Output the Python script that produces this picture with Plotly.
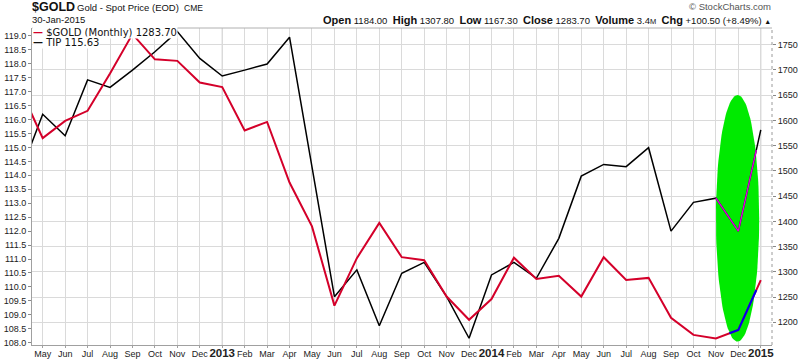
import numpy as np
import plotly.graph_objects as go

# Monthly categories (first one, Apr 2012, lies just left of the visible range)
months = ["Apr", "May", "Jun", "Jul", "Aug", "Sep", "Oct", "Nov", "Dec", "2013",
          "Feb", "Mar", "Apr", "May", "Jun", "Jul", "Aug", "Sep", "Oct", "Nov", "Dec", "2014",
          "Feb", "Mar", "Apr", "May", "Jun", "Jul", "Aug", "Sep", "Oct", "Nov", "Dec", "2015"]

gold = [1662, 1565, 1599, 1619, 1693, 1771, 1721, 1718, 1675, 1666,
        1580, 1597, 1477, 1390, 1233, 1327, 1397, 1329, 1323, 1251, 1205, 1246,
        1328, 1286, 1292, 1251, 1329, 1284, 1288, 1209, 1175, 1168, 1185, 1283.7]

tip = [114.07, 116.19, 115.42, 117.42, 117.15, 117.77, 118.43, 119.15, 118.19, 117.56,
       117.77, 117.99, 118.95, 114.33, 109.65, 110.61, 108.61, 110.49, 110.88, 109.65, 108.16, 110.43,
       110.88, 110.31, 111.74, 113.97, 114.39, 114.31, 114.99, 112.0, 113.03, 113.18, 112.0, 115.63]

idx = np.arange(len(months)) - 1  # 0 = May 2012

years = {"2013", "2014", "2015"}
ticktext = [f"<b><span style='font-size:11.5px'>{m}</span></b>" if m in years else m for m in months]

RED = "#d4002a"
FONT = "Liberation Sans, Arial, sans-serif"
GRID = "#dadada"


def segment(xs, ys, a, b):
    pts = [a] + [k for k in xs if a < k < b] + [b]
    return pts, np.interp(pts, xs, ys)


fig = go.Figure()

# hand-drawn green highlight ellipse (annotation, first trace of the lower subplot)
ecx, ecy, erx, ery = 30.965, 112.46, 0.965, 4.42
t = np.linspace(0, 2 * np.pi, 121)
fig.add_trace(go.Scatter(x=ecx + erx * np.cos(t), y=ecy + ery * np.sin(t), yaxis="y",
                         mode="lines", fill="toself", fillcolor="#00ea00",
                         line=dict(width=0, color="#00ea00"), hoverinfo="skip", showlegend=False))

fig.add_trace(go.Scatter(x=idx, y=tip, yaxis="y", mode="lines",
                         line=dict(color="#000000", width=1.5), name="TIP"))
mx, my = segment(idx, tip, 30, 31.8)
fig.add_trace(go.Scatter(x=mx, y=my, yaxis="y", mode="lines",
                         line=dict(color="#e000e0", width=1.5), showlegend=False))

fig.add_trace(go.Scatter(x=idx, y=gold, yaxis="y2", mode="lines",
                         line=dict(color=RED, width=2), name="$GOLD"))
bx, by = segment(idx, gold, 30.6, 31.8)
fig.add_trace(go.Scatter(x=bx, y=by, yaxis="y2", mode="lines",
                         line=dict(color="#0000ee", width=2), showlegend=False))

L, R, T, B = 32, 28, 28, 14
W, H = 800, 359
PW, PH = W - L - R, H - T - B


def px(x):
    return (x - L) / PW


def py(y):
    return (H - B - y) / PH


shapes = []
for yr in [8, 20, 32]:
    shapes.append(dict(type="line", xref="x", yref="paper", x0=yr, x1=yr, y0=0, y1=1,
                       line=dict(color="#c0c0c0", width=1), layer="below"))
shapes.append(dict(type="line", xref="paper", yref="paper", x0=1, x1=1, y0=0, y1=1,
                   line=dict(color="#9a9a9a", width=1, dash="dot"), layer="above"))
shapes.append(dict(type="line", xref="paper", yref="paper", x0=0, x1=1, y0=1, y1=1,
                   line=dict(color="#b0b0b0", width=1), layer="above"))

ann = []
ann.append(dict(x=px(30), y=py(7), xref="paper", yref="paper", xanchor="left", yanchor="middle",
                text="<b>$GOLD</b>", showarrow=False, font=dict(family=FONT, size=12.5, color="#111")))
ann.append(dict(x=px(75), y=py(7.5), xref="paper", yref="paper", xanchor="left", yanchor="middle",
                text="Gold - Spot Price (EOD)", showarrow=False, font=dict(family=FONT, size=9.5, color="#111")))
ann.append(dict(x=px(182), y=py(8), xref="paper", yref="paper", xanchor="left", yanchor="middle",
                text="CME", showarrow=False, font=dict(family=FONT, size=8.5, color="#111")))
ann.append(dict(x=px(30), y=py(20), xref="paper", yref="paper", xanchor="left", yanchor="middle",
                text="30-Jan-2015", showarrow=False, font=dict(family=FONT, size=9.5, color="#111")))
ann.append(dict(x=px(773), y=py(6.5), xref="paper", yref="paper", xanchor="right", yanchor="middle",
                text="© StockCharts.com", showarrow=False, font=dict(family=FONT, size=9.5, color="#555")))
stats = ("<b><span style='font-size:11px'>Open</span></b> 1184.00  "
         "<b><span style='font-size:11px'>High</span></b> 1307.80  "
         "<b><span style='font-size:11px'>Low</span></b> 1167.30  "
         "<b><span style='font-size:11px'>Close</span></b> 1283.70  "
         "<b><span style='font-size:11px'>Volume</span></b> 3.4<span style='font-size:7.5px'>M</span>  "
         "<b><span style='font-size:11px'>Chg</span></b> +100.50 (+8.49%) "
         "<span style='font-size:7px'>▲</span>")
ann.append(dict(x=px(773), y=py(20), xref="paper", yref="paper", xanchor="right", yanchor="middle",
                text=stats, showarrow=False, font=dict(family=FONT, size=9.5, color="#111")))
# in-chart legend
ann.append(dict(x=px(32), y=py(32), xref="paper", yref="paper", xanchor="left", yanchor="middle",
                text=f"<span style='color:{RED}'><b>—</b></span> $GOLD (Monthly) 1283.70",
                showarrow=False, bgcolor="white", borderpad=0,
                font=dict(family="DejaVu Sans, Verdana, sans-serif", size=10, color="#111")))
ann.append(dict(x=px(32), y=py(42.5), xref="paper", yref="paper", xanchor="left", yanchor="middle",
                text="<b>—</b> TIP 115.63",
                showarrow=False, bgcolor="white", borderpad=0,
                font=dict(family="DejaVu Sans, Verdana, sans-serif", size=10, color="#111")))

fig.update_layout(
    width=W, height=H,
    margin=dict(l=L, r=R, t=T, b=B, autoexpand=False),
    paper_bgcolor="white", plot_bgcolor="white",
    showlegend=False,
    font=dict(family=FONT, size=9, color="#222"),
    xaxis=dict(range=[-0.477, 32.5], tickmode="array", tickvals=idx, ticktext=ticktext,
               showgrid=True, gridcolor=GRID, gridwidth=1, zeroline=False,
               showline=True, linecolor="#a0a0a0", linewidth=1,
               ticks="outside", ticklen=2, tickcolor="#a0a0a0", ticklabelstandoff=-2,
               tickfont=dict(family=FONT, size=9, color="#222"), tickangle=0, automargin=False),
    yaxis=dict(range=[107.918, 119.28], dtick=0.5, tick0=108, tickformat=".1f",
               showgrid=False, zeroline=False, showline=True, linecolor="#a0a0a0", linewidth=1,
               ticks="outside", ticklen=3, tickcolor="#888",
               tickfont=dict(family=FONT, size=9, color="#222"), automargin=False),
    yaxis2=dict(range=[1155.0, 1783.1], dtick=50, tick0=1200, overlaying="y", side="right",
                showgrid=True, gridcolor=GRID, gridwidth=1, zeroline=False, showline=False,
                ticks="outside", ticklen=3, tickcolor="#888",
                tickfont=dict(family=FONT, size=9, color="#222"), automargin=False),
    shapes=shapes,
    annotations=ann,
)

fig.write_html("out.html", config={"displayModeBar": False},
               post_script="document.body.style.margin='0';")
